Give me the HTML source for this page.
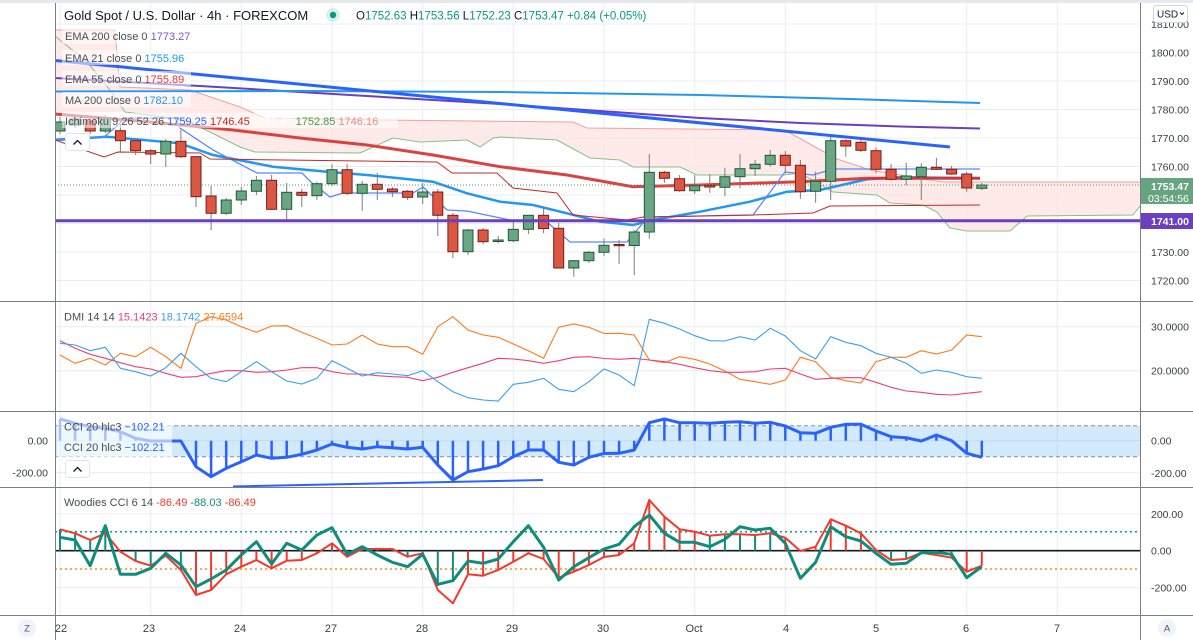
<!DOCTYPE html>
<html><head><meta charset="utf-8"><style>
html,body{margin:0;padding:0;background:#fff;}
svg{display:block;font-family:"Liberation Sans",sans-serif;}
</style></head><body>
<svg width="1193" height="640" viewBox="0 0 1193 640" xmlns="http://www.w3.org/2000/svg">
<defs><clipPath id="main"><rect x="55" y="3" width="1085" height="298"/></clipPath>
<clipPath id="sub"><rect x="55" y="301" width="1085" height="314"/></clipPath></defs>
<rect x="0" y="0" width="1193" height="640" fill="#fff"/>
<rect x="0" y="0" width="1193" height="3" fill="#e6e8ed"/>
<!-- grid -->
<g stroke="#eaecf0" stroke-width="1">
<path d="M60 3V615M150.7 3V615M241.3 3V615M332 3V615M422.7 3V615M513.3 3V615M604 3V615M694.7 3V615M785.3 3V615M876 3V615M966.7 3V615M1057.3 3V615"/>
<path d="M55 24H1140M55 52.5H1140M55 81H1140M55 109.5H1140M55 138H1140M55 166.5H1140M55 195H1140M55 223.5H1140M55 252H1140M55 280.5H1140"/>
<path d="M55 326.7H1140M55 370.7H1140M55 440.7H1140M55 472.7H1140M55 514H1140M55 587.7H1140"/>
</g>
<g clip-path="url(#main)">
<!-- cloud -->
<polygon fill="#fde6e5" fill-opacity="0.85" points="55,30 115,30 120,87 190,90 240,107 265,118 383,120 573,122 587,128 783,130 790,133 837,159 870,170 943,182 1140,182 1140,206 1133,215 1027,216 1010,231 967,231 950,228 937,212 923,205 890,203 877,195 833,192 800,173 783,175 697,175 680,167 633,167 620,160 590,158 557,140 500,137 493,138 480,147 467,140 420,142 393,138 360,153 255,152 240,147 212,133 185,120 125,112 55,112"/>
<polyline fill="none" stroke="#f2a09c" stroke-width="1" points="55,30 115,30 120,87 190,90 240,107 265,118 383,120 573,122 587,128 783,130 790,133 837,159 870,170 943,182 1140,182"/>
<polyline fill="none" stroke="#86c08a" stroke-width="1" points="55,36 88,63 110,90 125,112 185,120 212,133 240,147 255,152 360,153 393,138 420,142 467,140 480,147 493,138 500,137 557,140 590,158 620,160 633,167 680,167 697,175 783,175 800,173 833,192 877,195 890,203 923,205 937,212 950,228 967,231 1010,231 1027,216 1133,215 1140,206"/>
<!-- MAs -->
<polyline fill="none" stroke="#6a3fc0" stroke-width="2" points="55,78 200,86 350,95 500,104 600,111 700,118 800,123 900,126.5 980,128.5"/>
<polyline fill="none" stroke="#2196f3" stroke-width="2" points="55,91.5 300,91 500,92 700,95 850,99 980,103"/>
<polyline fill="none" stroke="#2196f3" stroke-width="2.5" points="55,140 107,136.7 180,143.3 213,155 273,166.7 327,171.7 367,175 433,181.7 467,193.3 500,201.7 533,205 567,213.3 600,221.7 633,225 653,220 700,211.7 750,201.7 787,191.7 820,190 867,179.3 900,177.3 980,178.3"/>
<polyline fill="none" stroke="#d62f2f" stroke-opacity="0.9" stroke-width="3" points="55,114 150,122 233,130 300,138 367,145 433,155 500,166.7 567,175 633,186.7 700,185 800,181.7 867,178.3 980,178.3"/>
<polyline fill="none" stroke="#5b86ff" stroke-width="1.3" points="55,139 104,137 118,125 125,118 175,118 180,128 213,150 257,173 302,173 312,183 330,197 343,193 413,193 423,187 447,210 467,211 510,220 547,222 570,242 627,242 643,223 652,217 753,215 785,172 813,175 833,169 980,169"/>
<polyline fill="none" stroke="#c62828" stroke-width="1" points="55,140 104,157 118,152 200,153 210,159 437,162 452,173 497,173 513,188 557,193 573,215 627,220 643,217 753,215 813,213 830,206 980,205"/>
<!-- candles wicks -->
<g stroke="#7d7d7d" stroke-width="1">
<path d="M60 117V134M75.1 116V128M90.2 118V134M105.3 115V133M120.4 118V153M135.6 139V155M150.7 149V164M165.8 139V167M180.9 130V158M196 156V207M211.1 186V230M226.2 198V215M241.3 187V205M256.4 176V195M271.6 175V210M286.7 183V222M301.8 189V207M316.9 181.7V200M332 164V186M347.1 164V195M362.2 181V210.7M377.3 172.7V200M392.4 187V197M407.6 190V200M422.7 183V204M437.8 189V236M452.9 213V258M468 229V255M483.1 228V244.3M498.2 235.7V243.3M513.3 222V242M528.4 215V234M543.6 208V233.3M558.7 222.7V268M573.8 260V276.7M588.9 251V263M604 238.5V256M619.1 240V264M634.2 230V275.3M649.3 154V238.7M664.4 170.7V182.7M679.6 175V191.7M694.7 175V194M709.8 174.3V192.7M724.9 167.7V196M740 154V188.3M755.1 160V176M770.2 150V166.7M785.3 151V173.3M800.4 160V198.7M815.6 171.7V202.7M830.7 136.7V200M845.8 139.3V156.7M860.9 140V152M876 147.3V173.3M891.1 164V180.7M906.2 162.7V185.3M921.3 163.3V200M936.4 157.7V170M951.6 166V175M966.7 171.7V191.7M981.8 183V190"/>
</g>
<!-- green bodies -->
<g fill="#6aa683" stroke="#1f5a35" stroke-width="1">
<rect x="55" y="122" width="10" height="9"/>
<rect x="70.1" y="119" width="10" height="6"/>
<rect x="100.3" y="118" width="10" height="13"/>
<rect x="160.8" y="141.3" width="10" height="12.7"/>
<rect x="221.2" y="200" width="10" height="13.3"/>
<rect x="236.3" y="191" width="10" height="9"/>
<rect x="251.4" y="180.3" width="10" height="11"/>
<rect x="281.7" y="192.3" width="10" height="17"/>
<rect x="311.9" y="183.7" width="10" height="12"/>
<rect x="327" y="169.7" width="10" height="14"/>
<rect x="357.2" y="184.3" width="10" height="9"/>
<rect x="417.7" y="192" width="10" height="5"/>
<rect x="463" y="230" width="10" height="21.7"/>
<rect x="493.2" y="240" width="10" height="1.5"/>
<rect x="508.3" y="229.3" width="10" height="11.4"/>
<rect x="523.4" y="215.3" width="10" height="14"/>
<rect x="568.8" y="260.7" width="10" height="7.3"/>
<rect x="583.9" y="252.3" width="10" height="8.4"/>
<rect x="599" y="245.3" width="10" height="7"/>
<rect x="629.2" y="232" width="10" height="13.5"/>
<rect x="644.3" y="172.3" width="10" height="59.7"/>
<rect x="689.7" y="185.7" width="10" height="5"/>
<rect x="719.9" y="176.7" width="10" height="10.6"/>
<rect x="735" y="168.7" width="10" height="8"/>
<rect x="750.1" y="164.3" width="10" height="4.4"/>
<rect x="765.2" y="155.3" width="10" height="9"/>
<rect x="810.6" y="181.3" width="10" height="10"/>
<rect x="825.7" y="140.7" width="10" height="40.6"/>
<rect x="901.2" y="176" width="10" height="3.3"/>
<rect x="916.3" y="167.3" width="10" height="9.4"/>
<rect x="976.8" y="185" width="10" height="3.3"/>
</g>
<!-- red bodies -->
<g fill="#db5744" stroke="#7a1d14" stroke-width="1">
<rect x="85.2" y="121" width="10" height="10"/>
<rect x="115.4" y="130.7" width="10" height="10"/>
<rect x="130.6" y="140.7" width="10" height="10"/>
<rect x="145.7" y="150.7" width="10" height="3.3"/>
<rect x="175.9" y="141.3" width="10" height="15.4"/>
<rect x="191" y="156.7" width="10" height="40"/>
<rect x="206.1" y="196" width="10" height="17.3"/>
<rect x="266.6" y="180.3" width="10" height="29"/>
<rect x="296.8" y="192.3" width="10" height="3"/>
<rect x="342.1" y="169.7" width="10" height="23.6"/>
<rect x="372.3" y="184.3" width="10" height="5"/>
<rect x="387.4" y="189" width="10" height="2.7"/>
<rect x="402.6" y="191.3" width="10" height="6"/>
<rect x="432.8" y="192" width="10" height="23.3"/>
<rect x="447.9" y="215.3" width="10" height="36.4"/>
<rect x="478.1" y="230" width="10" height="11.7"/>
<rect x="538.6" y="215.3" width="10" height="13.2"/>
<rect x="553.7" y="228.3" width="10" height="39.7"/>
<rect x="614.1" y="244.5" width="10" height="1.2"/>
<rect x="659.4" y="172.3" width="10" height="6"/>
<rect x="674.6" y="178.7" width="10" height="12"/>
<rect x="704.8" y="185.3" width="10" height="1.7"/>
<rect x="780.3" y="155.3" width="10" height="10"/>
<rect x="795.4" y="165.3" width="10" height="26.4"/>
<rect x="840.8" y="140.7" width="10" height="5.3"/>
<rect x="855.9" y="142.3" width="10" height="8"/>
<rect x="871" y="150.7" width="10" height="18.6"/>
<rect x="886.1" y="169.3" width="10" height="10"/>
<rect x="931.4" y="167.3" width="10" height="2"/>
<rect x="946.6" y="169.3" width="10" height="4.7"/>
<rect x="961.7" y="174" width="10" height="14"/>
</g>
<!-- drawings -->
<line x1="55" y1="60.5" x2="950" y2="147" stroke="#2962ff" stroke-width="3"/>
<line x1="55" y1="220.7" x2="1140" y2="220.7" stroke="#6a3fc0" stroke-width="3"/>
<line x1="55" y1="185" x2="1140" y2="185" stroke="#5f8f73" stroke-width="1" stroke-dasharray="1,2"/>
</g>
<!-- main legend -->
<g font-size="13" fill="#131722"><text x="64" y="20">Gold Spot / U.S. Dollar · 4h · FOREXCOM</text></g>
<circle cx="333" cy="15" r="7" fill="#089981" fill-opacity="0.15"/><circle cx="333" cy="15" r="3.2" fill="#089981"/>
<text x="356" y="19.5" font-size="11.5" fill="#089981"><tspan fill="#131722">O</tspan>1752.63 <tspan fill="#131722">H</tspan>1753.56 <tspan fill="#131722">L</tspan>1752.23 <tspan fill="#131722">C</tspan>1753.47 +0.84 (+0.05%)</text>
<g font-size="11">
<rect x="62" y="29" width="135" height="15" fill="#fff" fill-opacity="0.55"/>
<text x="65" y="40" fill="#4a4d55">EMA 200 close 0 <tspan fill="#7e57c2">1773.27</tspan></text>
<rect x="62" y="50" width="129" height="15" fill="#fff" fill-opacity="0.55"/>
<text x="65" y="62" fill="#4a4d55">EMA 21 close 0 <tspan fill="#2196f3">1755.96</tspan></text>
<rect x="62" y="71" width="129" height="15" fill="#fff" fill-opacity="0.55"/>
<text x="65" y="83" fill="#4a4d55">EMA 55 close 0 <tspan fill="#e53935">1755.89</tspan></text>
<rect x="62" y="92" width="129" height="15" fill="#fff" fill-opacity="0.55"/>
<text x="65" y="104" fill="#4a4d55">MA 200 close 0 <tspan fill="#2196f3">1782.10</tspan></text>
<rect x="62" y="113" width="336" height="15" fill="#fff" fill-opacity="0.55"/>
<text x="65" y="125" fill="#4a4d55">Ichimoku 9 26 52 26 <tspan fill="#2962ff">1759.25</tspan> <tspan fill="#c62828">1746.45</tspan> <tspan fill="#ffffff">1753.47</tspan> <tspan fill="#43a047">1752.85</tspan> <tspan fill="#ef8a86">1746.16</tspan></text>
</g>
<rect x="65.5" y="133.5" width="24" height="17" rx="3" fill="#fff" stroke="#e0e3eb"/>
<path d="M73.5 144.5L77.5 140.5L81.5 144.5" fill="none" stroke="#131722" stroke-width="1.3"/>
<!-- DMI -->
<g clip-path="url(#sub)" fill="none" stroke-width="1.1">
<polyline stroke="#ff7a1a" points="60,355 75.1,363.3 90.2,358.3 105.3,365 120.4,353.3 135.6,356.7 150.7,347.3 165.8,356.7 180.9,368.3 196,323.3 211.1,316.7 226.2,320 241.3,326.7 256.4,332.3 271.6,326 286.7,325.7 301.8,332.3 316.9,338.3 332,345 347.1,344 362.2,335 377.3,344 392.4,346.7 407.6,346.7 422.7,354.3 437.8,326.7 452.9,316.7 468,330 483.1,335 498.2,337.3 513.3,344 528.4,350.7 543.6,358.3 558.7,327.3 573.8,324 588.9,327.3 604,333.5 619.1,333.3 634.2,335 649.3,360 664.4,362.7 679.6,356.7 694.7,359.3 709.8,364 724.9,371 740,379.3 755.1,381.7 770.2,384.3 785.3,380 800.4,357.3 815.6,361.7 830.7,377.3 845.8,380.7 860.9,383 876,361.7 891.1,357.3 906.2,357.3 921.3,350.7 936.4,354 951.6,350 966.7,335 981.8,336.7"/>
<polyline stroke="#ef3d7c" points="60,340.7 75.1,348.3 90.2,354.3 105.3,358.3 120.4,362.7 135.6,366.7 150.7,369 165.8,373.3 180.9,377.3 196,376.7 211.1,373.3 226.2,370.7 241.3,370.7 256.4,372.3 271.6,371.7 286.7,370 301.8,367.7 316.9,367.7 332,371.7 347.1,374 362.2,374 377.3,375.7 392.4,376.7 407.6,377.3 422.7,380.7 437.8,377.3 452.9,372.3 468,367.7 483.1,363.3 498.2,358.3 513.3,359 528.4,360.7 543.6,363.3 558.7,360.7 573.8,357.3 588.9,356.7 604,358.5 619.1,359.3 634.2,358.3 649.3,360 664.4,361.7 679.6,364.3 694.7,367.7 709.8,370.7 724.9,372.3 740,372.3 755.1,371.7 770.2,369 785.3,368.3 800.4,374 815.6,379.3 830.7,378.3 845.8,377.7 860.9,377.7 876,382.3 891.1,387.3 906.2,391 921.3,392.3 936.4,394.3 951.6,395 966.7,393.3 981.8,391.7"/>
<polyline stroke="#3aa0f0" points="60,343.3 75.1,345 90.2,350.7 105.3,347.3 120.4,368.3 135.6,371.7 150.7,376 165.8,367.7 180.9,353.3 196,366.7 211.1,378.3 226.2,381.7 241.3,371.7 256.4,361.7 271.6,371.7 286.7,381 301.8,384 316.9,378.3 332,360.7 347.1,368.3 362.2,376 377.3,372.7 392.4,374 407.6,375.7 422.7,370.7 437.8,381.7 452.9,391.7 468,397.7 483.1,400 498.2,401 513.3,384.3 528.4,382.3 543.6,378.3 558.7,389.3 573.8,391.7 588.9,381.7 604,369 619.1,375 634.2,385.7 649.3,319.3 664.4,323.3 679.6,329 694.7,335.7 709.8,340.7 724.9,341 740,336.7 755.1,340 770.2,328.3 785.3,336 800.4,350.7 815.6,359 830.7,336.7 845.8,342.3 860.9,345.7 876,353.3 891.1,357.3 906.2,363.3 921.3,373.3 936.4,370 951.6,372.3 966.7,376.7 981.8,378.3"/>
</g>
<text x="64" y="320.5" font-size="11" fill="#4a4d55">DMI 14 14 <tspan fill="#ef3d7c">15.1423</tspan> <tspan fill="#3aa0f0">18.1742</tspan> <tspan fill="#ff7a1a">27.6594</tspan></text>
<!-- CCI -->
<rect x="55" y="425.7" width="1085" height="31" fill="#2196f3" fill-opacity="0.2"/>
<g stroke="#8a8d96" stroke-width="1" stroke-dasharray="4,3"><path d="M55 425.7H1140M55 456.7H1140"/></g>
<path fill="none" stroke="#2962ff" stroke-width="2.5" d="M60 440.7V419M75.1 440.7V423.3M90.2 440.7V426.7M105.3 440.7V428.3M120.4 440.7V431.7M135.6 440.7V438.3M196 440.7V466.7M211.1 440.7V476.7M226.2 440.7V468.3M241.3 440.7V461.7M256.4 440.7V455M271.6 440.7V458.3M286.7 440.7V457.3M301.8 440.7V454.3M316.9 440.7V450M332 440.7V444M347.1 440.7V447.3M362.2 440.7V449M377.3 440.7V446.7M392.4 440.7V447.7M407.6 440.7V449M422.7 440.7V447.3M437.8 440.7V465M452.9 440.7V480M468 440.7V471.7M483.1 440.7V469M498.2 440.7V465.7M513.3 440.7V456.7M528.4 440.7V450M543.6 440.7V450M558.7 440.7V462.3M573.8 440.7V465M588.9 440.7V457.3M604 440.7V453.5M619.1 440.7V453.3M634.2 440.7V450M649.3 440.7V422.7M664.4 440.7V419M679.6 440.7V422.7M694.7 440.7V422.7M709.8 440.7V423.3M724.9 440.7V422.3M740 440.7V421.7M755.1 440.7V423.3M770.2 440.7V422.3M785.3 440.7V426M800.4 440.7V432.7M815.6 440.7V433.3M830.7 440.7V427.3M845.8 440.7V424.3M860.9 440.7V424.3M876 440.7V431M891.1 440.7V436.7M906.2 440.7V437.7M936.4 440.7V435M966.7 440.7V453.3M981.8 440.7V457.3"/>
<polyline fill="none" stroke="#2962ff" stroke-width="3" stroke-linejoin="round" points="60,419 75.1,423.3 90.2,426.7 105.3,428.3 120.4,431.7 135.6,438.3 150.7,441 165.8,441 180.9,441 196,466.7 211.1,476.7 226.2,468.3 241.3,461.7 256.4,455 271.6,458.3 286.7,457.3 301.8,454.3 316.9,450 332,444 347.1,447.3 362.2,449 377.3,446.7 392.4,447.7 407.6,449 422.7,447.3 437.8,465 452.9,480 468,471.7 483.1,469 498.2,465.7 513.3,456.7 528.4,450 543.6,450 558.7,462.3 573.8,465 588.9,457.3 604,453.5 619.1,453.3 634.2,450 649.3,422.7 664.4,419 679.6,422.7 694.7,422.7 709.8,423.3 724.9,422.3 740,421.7 755.1,423.3 770.2,422.3 785.3,426 800.4,432.7 815.6,433.3 830.7,427.3 845.8,424.3 860.9,424.3 876,431 891.1,436.7 906.2,437.7 921.3,441 936.4,435 951.6,440.7 966.7,453.3 981.8,457.3"/>
<line x1="233" y1="486.5" x2="543" y2="480" stroke="#2962ff" stroke-width="2"/>
<rect x="57" y="418" width="115" height="50" fill="#fff" fill-opacity="0.6"/>
<g font-size="11" fill="#4a4d55">
<text x="64" y="430.5">CCI 20 hlc3 <tspan fill="#2962ff">−102.21</tspan></text>
<text x="64" y="451">CCI 20 hlc3 <tspan fill="#2962ff">−102.21</tspan></text>
</g>
<rect x="65.5" y="460.5" width="24" height="17" rx="3" fill="#fff" stroke="#e0e3eb"/>
<path d="M73.5 471.5L77.5 467.5L81.5 471.5" fill="none" stroke="#131722" stroke-width="1.3"/>
<!-- Woodies -->
<g stroke-width="1.5" stroke-dasharray="2,3"><path d="M55 531.7H1140" stroke="#0f9a88"/><path d="M55 569H1140" stroke="#ff8a1a"/></g>
<path d="M55 550.7H1140" stroke="#131722" stroke-width="1.6"/>
<path fill="none" stroke="#0f8c7c" stroke-width="2" d="M60 550.7V529.3M75.1 550.7V533.3M90.2 550.7V540M105.3 550.7V525.7M120.4 550.7V551.7M135.6 550.7V561M150.7 550.7V565.7M165.8 550.7V555.7M180.9 550.7V570M347.1 550.7V556.7M362.2 550.7V549M377.3 550.7V549M392.4 550.7V549M407.6 550.7V556.7M422.7 550.7V553.3M437.8 550.7V586M452.9 550.7V582M709.8 550.7V535.7M724.9 550.7V534.3M740 550.7V534.3M755.1 550.7V535M770.2 550.7V533.3M876 550.7V552M891.1 550.7V560M906.2 550.7V559M921.3 550.7V552.7M936.4 550.7V555M951.6 550.7V557.7"/>
<path fill="none" stroke="#f23a2c" stroke-width="2" d="M196 550.7V595M211.1 550.7V590M226.2 550.7V574.3M241.3 550.7V566.7M256.4 550.7V560M271.6 550.7V568.3M286.7 550.7V560.7M301.8 550.7V560M316.9 550.7V553.3M332 550.7V543.3M468 550.7V574.3M483.1 550.7V575.7M498.2 550.7V570M513.3 550.7V561.7M528.4 550.7V553.3M543.6 550.7V559M558.7 550.7V577.7M573.8 550.7V571.7M588.9 550.7V565M604 550.7V557M619.1 550.7V555M634.2 550.7V543.3M649.3 550.7V500M664.4 550.7V516.7M679.6 550.7V529.3M694.7 550.7V531.7M785.3 550.7V537.7M800.4 550.7V551M815.6 550.7V546.7M830.7 550.7V519.3M845.8 550.7V525.7M860.9 550.7V533.3M966.7 550.7V571.7M981.8 550.7V565.7"/>
<polyline fill="none" stroke="#f23a2c" stroke-width="2" stroke-linejoin="round" points="60,529.3 75.1,533.3 90.2,540 105.3,533.3 120.4,551.7 135.6,561 150.7,565.7 165.8,555.7 180.9,570 196,595 211.1,590 226.2,574.3 241.3,566.7 256.4,560 271.6,568.3 286.7,560.7 301.8,560 316.9,553.3 332,543.3 347.1,556.7 362.2,549 377.3,549 392.4,549 407.6,556.7 422.7,553.3 437.8,590 452.9,603.3 468,574.3 483.1,575.7 498.2,570 513.3,561.7 528.4,553.3 543.6,559 558.7,577.7 573.8,571.7 588.9,565 604,557 619.1,555 634.2,543.3 649.3,500 664.4,516.7 679.6,529.3 694.7,531.7 709.8,535.7 724.9,534.3 740,534.3 755.1,535 770.2,533.3 785.3,537.7 800.4,551 815.6,546.7 830.7,519.3 845.8,525.7 860.9,533.3 876,550 891.1,560 906.2,559 921.3,552.7 936.4,555 951.6,557.7 966.7,571.7 981.8,565.7"/>
<polyline fill="none" stroke="#0f8c7c" stroke-width="3" stroke-linejoin="round" points="60,537.3 75.1,540 90.2,565.7 105.3,525.7 120.4,574.3 135.6,574.3 150.7,568.3 165.8,553.3 180.9,565 196,586.7 211.1,579 226.2,570 241.3,555 256.4,541.7 271.6,564 286.7,543.3 301.8,550 316.9,535 332,527.7 347.1,554.3 362.2,546.7 377.3,555 392.4,562.3 407.6,566.7 422.7,554.3 437.8,584.3 452.9,580.7 468,561 483.1,563.3 498.2,559 513.3,541.7 528.4,525.7 543.6,547.3 558.7,580 573.8,566.7 588.9,557.7 604,549 619.1,544.3 634.2,526.7 649.3,515 664.4,533.3 679.6,542.3 694.7,542.3 709.8,546.7 724.9,539.3 740,526.7 755.1,530 770.2,528.3 785.3,543.3 800.4,578.3 815.6,562.3 830.7,526.7 845.8,536.7 860.9,541 876,553.3 891.1,564.3 906.2,563.3 921.3,552.7 936.4,552.3 951.6,554.3 966.7,577.7 981.8,566.7"/>
<text x="64" y="506" font-size="11" fill="#4a4d55">Woodies CCI 6 14 <tspan fill="#f23a2c">-86.49</tspan> <tspan fill="#0f8c7c">-88.03</tspan> <tspan fill="#f23a2c">-86.49</tspan></text>
<!-- separators & borders -->
<g stroke="#7b7e87" stroke-width="1">
<path d="M0 301.5H1193M0 411.5H1193M0 487.5H1193M0 615.5H1193"/>
<path d="M55.5 3V640M1140.5 3V640"/>
</g>
<!-- right axis labels -->
<g font-size="10.5" fill="#3b3e47">
<text x="1151" y="28">1810.00</text>
<text x="1151" y="56.5">1800.00</text>
<text x="1151" y="85">1790.00</text>
<text x="1151" y="113.5">1780.00</text>
<text x="1151" y="142">1770.00</text>
<text x="1151" y="170.5">1760.00</text>
<text x="1151" y="256">1730.00</text>
<text x="1151" y="284.5">1720.00</text>
<text x="1151" y="330.7">30.0000</text>
<text x="1151" y="374.7">20.0000</text>
<text x="1151" y="444.7">0.00</text>
<text x="1151" y="477">-200.00</text>
<text x="1151" y="518">200.00</text>
<text x="1151" y="554.7">0.00</text>
<text x="1151" y="591.7">-200.00</text>
<text x="48" y="444.7" text-anchor="end">0.00</text>
<text x="48" y="476.5" text-anchor="end">-200.00</text>
</g>
<rect x="1141" y="178" width="52" height="26" fill="#66a37f"/>
<text x="1151" y="190" font-size="10.5" font-weight="bold" fill="#fff">1753.47</text>
<text x="1148" y="202" font-size="10.5" fill="#fff">03:54:56</text>
<rect x="1141" y="213" width="52" height="16" fill="#6a3fc0"/>
<text x="1151" y="225" font-size="10.5" font-weight="bold" fill="#fff">1741.00</text>
<rect x="1153.5" y="5.5" width="34" height="17" rx="3" fill="#fff" stroke="#d1d4dc"/>
<text x="1157" y="17.5" font-size="10" fill="#131722">USD</text>
<path d="M1180 12.5l2 2 2-2" fill="none" stroke="#131722" stroke-width="1"/>
<!-- time axis -->
<g font-size="11" fill="#3b3e47" text-anchor="middle">
<text x="61" y="632">22</text>
<text x="149" y="632">23</text>
<text x="240" y="632">24</text>
<text x="331" y="632">27</text>
<text x="422" y="632">28</text>
<text x="512" y="632">29</text>
<text x="603" y="632">30</text>
<text x="694" y="632">Oct</text>
<text x="786" y="632">4</text>
<text x="876" y="632">5</text>
<text x="966" y="632">6</text>
<text x="1057" y="632">7</text>
</g>
<circle cx="27" cy="628" r="9" fill="#f0f3fa"/>
<text x="27" y="631.5" font-size="9.5" fill="#50535e" text-anchor="middle">Z</text>
<circle cx="1167" cy="628" r="9" fill="#f0f3fa"/>
<text x="1167" y="631.5" font-size="9.5" fill="#50535e" text-anchor="middle">A</text>
</svg>
</body></html>
